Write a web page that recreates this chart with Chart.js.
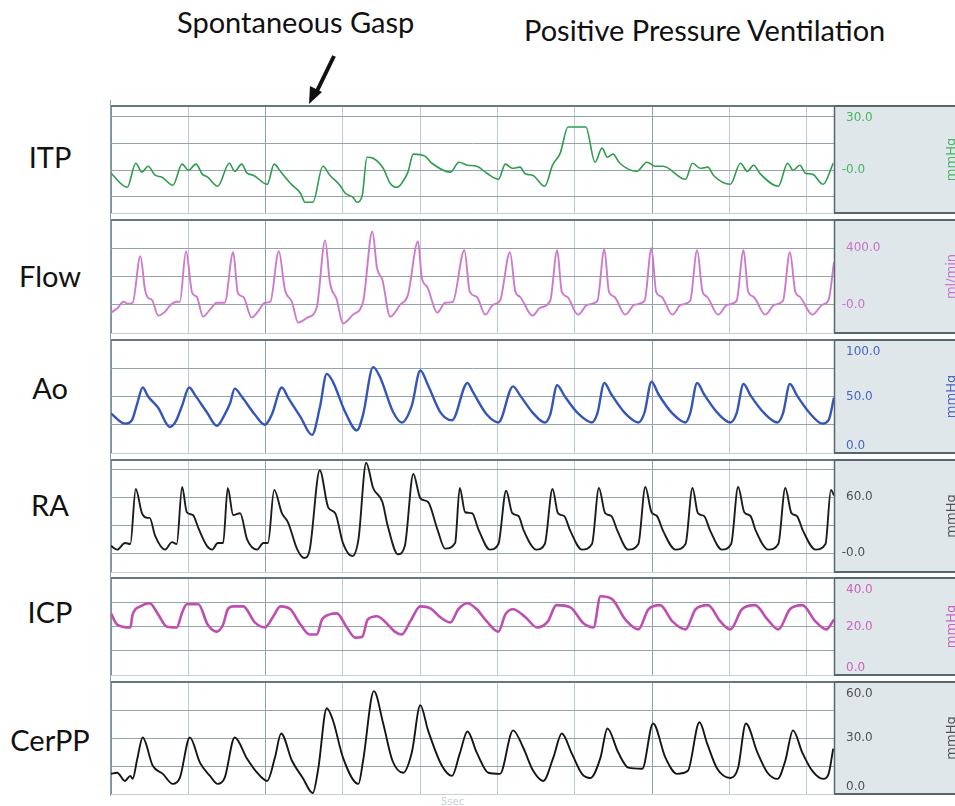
<!DOCTYPE html>
<html>
<head>
<meta charset="utf-8">
<script src="https://cdn.jsdelivr.net/npm/chart.js@4.4.1/dist/chart.umd.min.js"></script>
<style>
  body { margin: 0; background: #fff; width: 955px; height: 806px; overflow: hidden; position: relative; font-family: Lato, "Open Sans", sans-serif; }
  .name { position: absolute; width: 100px; left: 0; text-align: center; font-size: 29px; color: #111; line-height: 32px; }
  .note { position: absolute; font-size: 29px; color: #111; line-height: 32px; white-space: nowrap; }
  .panel { position: absolute; left: 108px; }
  #leftLine { position: absolute; left: 110px; top: 100px; width: 1px; height: 696px; background: #8c9ea6; }
  #secs { position: absolute; left: 441px; top: 796px; font: 10px "DejaVu Sans"; color: #c9d1d8; }
</style>
</head>
<body>
<div class="note" style="left:177px;top:6px">Spontaneous Gasp</div>
<div class="note" style="left:524px;top:14px">Positive Pressure Ventilation</div>
<svg width="955" height="110" style="position:absolute;left:0;top:0">
  <line x1="334" y1="56" x2="317" y2="91" stroke="#111" stroke-width="4"/>
  <polygon points="309,104 310,86 322,92" fill="#111"/>
</svg>
<div id="leftLine"></div>
<div id="secs">5sec</div>

<script>
// time axis (seconds), one grid line per second, darker every 5
const timeTicks = [0, 1, 2, 3, 4, 5, 6, 7, 8, 9];
const majorTicks = [2, 7];
const timeMax = 9.35;

// [time s, value]
const itpTrace = [[0.00,-1.7],[0.21,-9.6],[0.32,3.9],[0.40,-1.1],[0.48,2.2],[0.57,-2.8],[0.66,-3.9],[0.80,-8.4],[0.92,3.4],[1.00,0.0],[1.10,3.4],[1.18,-2.2],[1.25,-3.9],[1.38,-9.0],[1.53,3.9],[1.60,-0.6],[1.69,3.4],[1.76,-1.7],[1.84,-2.8],[2.02,-7.9],[2.11,3.4],[2.19,-0.6],[2.32,-7.3],[2.45,-12.9],[2.51,-18.0],[2.61,-18.0],[2.74,2.2],[2.83,-2.8],[2.96,-8.4],[3.03,-12.9],[3.13,-15.2],[3.18,-18.0],[3.25,-14.0],[3.31,7.3],[3.39,6.7],[3.52,1.1],[3.61,-7.3],[3.70,-9.6],[3.76,-7.3],[3.84,-1.1],[3.91,9.0],[4.06,7.9],[4.15,3.9],[4.39,-1.1],[4.50,4.5],[4.61,2.8],[4.73,2.2],[4.86,-1.7],[5.01,-5.1],[5.10,3.4],[5.19,1.1],[5.29,1.7],[5.36,-2.2],[5.45,-2.8],[5.61,-9.0],[5.71,2.8],[5.81,9.6],[5.91,24.2],[5.98,24.2],[6.14,24.2],[6.26,4.5],[6.35,12.4],[6.42,7.3],[6.49,9.0],[6.58,3.9],[6.80,-0.6],[6.93,4.5],[7.04,2.2],[7.14,2.2],[7.43,-5.1],[7.52,3.9],[7.62,1.1],[7.72,1.7],[7.79,-2.8],[8.01,-7.9],[8.14,3.9],[8.23,-0.6],[8.31,2.8],[8.40,-2.2],[8.63,-9.0],[8.75,3.9],[8.82,0.0],[8.91,2.8],[8.98,-1.7],[9.07,-2.2],[9.21,-7.9],[9.34,3.9]];

const flowTrace = [[0.00,-56],[0.09,-21],[0.16,21],[0.22,7],[0.28,14],[0.38,344],[0.44,105],[0.48,49],[0.53,35],[0.61,-77],[0.70,-49],[0.76,-7],[0.85,21],[0.89,21],[0.97,379],[1.05,84],[1.11,56],[1.19,-84],[1.28,-35],[1.37,14],[1.47,14],[1.58,372],[1.64,84],[1.71,56],[1.82,-91],[1.90,-49],[1.99,14],[2.06,21],[2.17,379],[2.25,105],[2.34,21],[2.42,-126],[2.54,-91],[2.66,-21],[2.77,456],[2.83,161],[2.92,35],[3.00,-133],[3.13,-70],[3.26,21],[3.38,519],[3.44,260],[3.51,176],[3.61,-84],[3.74,0],[3.84,70],[3.97,449],[4.02,190],[4.09,126],[4.22,-56],[4.32,14],[4.42,21],[4.57,386],[4.64,91],[4.73,56],[4.84,-70],[4.94,0],[5.03,28],[5.16,372],[5.23,91],[5.29,56],[5.45,-77],[5.55,-21],[5.68,28],[5.77,386],[5.83,91],[5.90,56],[6.04,-70],[6.16,0],[6.29,28],[6.38,393],[6.44,91],[6.51,56],[6.65,-70],[6.77,0],[6.90,28],[6.99,400],[7.05,91],[7.12,56],[7.26,-70],[7.37,0],[7.49,28],[7.58,386],[7.65,91],[7.71,56],[7.85,-70],[7.97,0],[8.09,28],[8.18,386],[8.24,91],[8.31,56],[8.46,-70],[8.58,0],[8.69,28],[8.78,372],[8.85,91],[8.91,56],[9.07,-70],[9.20,0],[9.28,35],[9.35,302]];

const aoTrace = [[0.00,35],[0.18,26],[0.27,29],[0.34,44],[0.41,58],[0.48,50],[0.61,40],[0.76,23],[0.83,27],[0.92,42],[1.01,58],[1.09,51],[1.24,36],[1.37,24],[1.47,34],[1.54,44],[1.60,57],[1.69,50],[1.86,34],[1.99,25],[2.08,34],[2.21,58],[2.29,49],[2.45,32],[2.60,16],[2.70,40],[2.79,70],[2.87,63],[3.03,36],[3.18,20],[3.26,34],[3.39,76],[3.48,67],[3.65,36],[3.76,27],[3.89,42],[4.00,73],[4.10,60],[4.26,36],[4.41,29],[4.61,62],[4.68,54],[4.86,34],[5.01,27],[5.20,59],[5.29,51],[5.45,36],[5.61,27],[5.68,34],[5.77,60],[5.86,51],[6.04,35],[6.22,27],[6.29,35],[6.38,62],[6.47,52],[6.65,35],[6.82,27],[6.90,36],[6.99,63],[7.08,52],[7.26,35],[7.43,27],[7.49,35],[7.58,62],[7.67,52],[7.85,35],[8.01,27],[8.09,35],[8.18,61],[8.27,51],[8.45,35],[8.62,27],[8.69,35],[8.78,61],[8.87,51],[9.04,35],[9.20,26],[9.28,29],[9.35,49]];

const raTrace = [[0.00,8],[0.08,4],[0.18,11],[0.25,10],[0.32,69],[0.40,43],[0.47,38],[0.50,38],[0.57,19],[0.70,4],[0.79,12],[0.85,10],[0.92,71],[0.98,44],[1.06,41],[1.13,27],[1.24,8],[1.31,4],[1.38,11],[1.45,11],[1.51,70],[1.58,41],[1.67,43],[1.76,15],[1.89,4],[1.97,11],[2.03,11],[2.11,68],[2.21,43],[2.29,33],[2.41,4],[2.50,-5],[2.57,4],[2.70,89],[2.81,49],[2.90,43],[3.00,11],[3.12,-3],[3.20,15],[3.30,97],[3.39,70],[3.51,55],[3.58,29],[3.71,-1],[3.80,8],[3.91,85],[4.00,59],[4.10,55],[4.22,26],[4.32,5],[4.45,11],[4.51,70],[4.58,44],[4.67,43],[4.75,26],[4.90,4],[5.01,10],[5.11,67],[5.19,43],[5.27,40],[5.34,24],[5.50,4],[5.61,10],[5.71,69],[5.78,43],[5.86,40],[5.94,24],[6.09,4],[6.22,10],[6.31,70],[6.39,43],[6.47,40],[6.55,24],[6.69,4],[6.82,10],[6.91,71],[6.99,44],[7.06,40],[7.14,24],[7.30,4],[7.43,10],[7.52,70],[7.59,43],[7.67,40],[7.75,24],[7.90,4],[8.02,10],[8.11,71],[8.19,44],[8.27,40],[8.34,24],[8.50,4],[8.63,10],[8.72,70],[8.80,43],[8.87,40],[8.95,24],[9.11,4],[9.24,10],[9.31,68],[9.35,62]];

const icpTrace = [[0.00,25.4],[0.08,20.8],[0.25,19.6],[0.28,25.0],[0.38,28.3],[0.50,29.6],[0.61,25.0],[0.72,20.0],[0.85,19.6],[0.92,25.8],[0.98,29.2],[1.13,29.2],[1.25,20.8],[1.37,17.9],[1.45,20.8],[1.51,27.1],[1.58,28.3],[1.71,28.3],[1.86,21.7],[1.99,19.6],[2.10,24.2],[2.19,28.3],[2.32,27.1],[2.45,20.8],[2.57,16.7],[2.66,16.7],[2.73,22.9],[2.83,25.0],[2.92,25.4],[3.05,19.6],[3.16,15.4],[3.25,15.8],[3.32,22.9],[3.44,24.2],[3.54,22.1],[3.67,17.9],[3.76,16.7],[3.87,22.1],[4.00,28.3],[4.13,27.5],[4.26,23.8],[4.39,21.7],[4.49,27.1],[4.61,29.6],[4.73,27.1],[4.86,22.1],[5.01,17.9],[5.10,25.0],[5.20,27.1],[5.36,23.8],[5.51,19.6],[5.65,22.1],[5.76,28.8],[5.94,27.9],[6.11,21.3],[6.24,19.6],[6.33,32.5],[6.48,31.3],[6.65,22.9],[6.82,18.8],[6.95,27.1],[7.10,28.8],[7.26,22.1],[7.43,18.8],[7.56,27.1],[7.72,28.8],[7.88,22.1],[8.01,18.8],[8.16,27.1],[8.33,28.8],[8.49,22.9],[8.63,18.8],[8.78,27.1],[8.94,28.8],[9.11,22.1],[9.25,18.8],[9.35,22.9]];

const cerppTrace = [[0.00,10.8],[0.08,11.4],[0.18,7.0],[0.25,9.7],[0.28,8.1],[0.34,18.9],[0.41,30.3],[0.54,15.1],[0.67,10.8],[0.80,5.4],[0.89,8.6],[1.02,30.3],[1.15,16.8],[1.28,9.7],[1.38,5.4],[1.47,8.6],[1.60,30.3],[1.76,18.9],[1.89,11.4],[2.02,7.0],[2.12,19.5],[2.20,32.4],[2.34,17.8],[2.48,8.6],[2.61,0.5],[2.68,13.5],[2.79,45.9],[2.87,39.5],[3.00,19.5],[3.20,5.4],[3.26,17.8],[3.40,55.1],[3.52,37.8],[3.64,17.8],[3.78,11.4],[3.89,22.2],[4.00,47.6],[4.10,34.1],[4.28,15.1],[4.41,9.7],[4.51,21.6],[4.61,33.5],[4.73,22.2],[4.88,11.4],[5.03,10.8],[5.20,34.1],[5.33,24.9],[5.46,12.4],[5.59,7.0],[5.72,19.5],[5.83,32.4],[5.96,21.6],[6.09,10.8],[6.20,8.6],[6.33,19.5],[6.42,35.1],[6.56,22.2],[6.69,14.1],[6.87,13.5],[7.01,37.8],[7.17,19.5],[7.32,10.8],[7.46,12.4],[7.61,38.4],[7.71,27.0],[7.84,13.5],[8.01,8.6],[8.11,14.1],[8.21,37.8],[8.36,22.2],[8.49,11.4],[8.62,8.1],[8.72,17.8],[8.82,34.1],[8.94,22.2],[9.07,12.4],[9.21,8.1],[9.28,10.8],[9.34,24.3]];

// right-hand scale labels
const itpTickValues = [30, 0],   itpTickLabels = ['30.0', '-0.0'];
const flowTickValues = [400, 0], flowTickLabels = ['400.0', '-0.0'];
const aoTickValues = [100, 50, 0], aoTickLabels = ['100.0', '50.0', '0.0'];
const raTickValues = [60, 0],    raTickLabels = ['60.0', '-0.0'];
const icpTickValues = [40, 20, 0], icpTickLabels = ['40.0', '20.0', '0.0'];
const cerppTickValues = [60, 30, 0], cerppTickLabels = ['60.0', '30.0', '0.0'];

const panels = [
  { name: 'ITP',   top: 106, height: 107, min: -24,  max: 36,  grid: [-24, -15, 0, 15, 30, 36], trace: itpTrace,   color: '#2e9c4c', width: 1.6, labelColor: '#46b463', tv: itpTickValues,   tl: itpTickLabels,   unit: 'mmHg',   nameY: 141 },
  { name: 'Flow',  top: 220, height: 113, min: -200, max: 600, grid: [-200, 0, 200, 400, 600],  trace: flowTrace,  color: '#cc7acc', width: 1.9, labelColor: '#c772c7', tv: flowTickValues,  tl: flowTickLabels,  unit: 'ml/min', nameY: 260 },
  { name: 'Ao',    top: 340, height: 113, min: 0,    max: 100, grid: [0, 25, 50, 75, 100],      trace: aoTrace,    color: '#3556b6', width: 2.4, labelColor: '#4764c6', tv: aoTickValues,    tl: aoTickLabels,    unit: 'mmHg',   nameY: 372 },
  { name: 'RA',    top: 460, height: 112, min: -20,  max: 100, grid: [-20, 0, 30, 60, 90, 100], trace: raTrace,    color: '#1c1c1c', width: 1.9, labelColor: '#505050', tv: raTickValues,    tl: raTickLabels,    unit: 'mmHg',   nameY: 489 },
  { name: 'ICP',   top: 578, height: 97,  min: 0,    max: 40,  grid: [0, 10, 20, 30, 40],       trace: icpTrace,   color: '#bf4eb2', width: 2.6, labelColor: '#cc62bd', tv: icpTickValues,   tl: icpTickLabels,   unit: 'mmHg',   nameY: 596 },
  { name: 'CerPP', top: 682, height: 112, min: 0,    max: 60,  grid: [0, 15, 30, 45, 60],       trace: cerppTrace, color: '#151515', width: 1.9, labelColor: '#505050', tv: cerppTickValues, tl: cerppTickLabels, unit: 'mmHg',   nameY: 724 }
];

const sidePanel = {
  id: 'sidePanel',
  afterDraw(chart, args, opts) {
    const p = opts.panel;
    const { ctx, chartArea: a } = chart;
    const y = chart.scales.y;
    ctx.save();
    ctx.fillStyle = '#dfe7ea';
    ctx.fillRect(a.right, a.top, chart.width - a.right, a.bottom - a.top);
    ctx.strokeStyle = '#56676e';
    ctx.lineWidth = 2;
    ctx.beginPath();
    ctx.moveTo(a.right, a.top); ctx.lineTo(chart.width, a.top);
    ctx.moveTo(a.right, a.bottom); ctx.lineTo(chart.width, a.bottom);
    ctx.stroke();
    ctx.lineWidth = 1.5;
    ctx.beginPath();
    ctx.moveTo(a.right + 0.5, a.top); ctx.lineTo(a.right + 0.5, a.bottom);
    ctx.stroke();

    ctx.font = '12px "DejaVu Sans"';
    ctx.fillStyle = p.labelColor;
    ctx.textBaseline = 'middle';
    ctx.textAlign = 'left';
    p.tv.forEach((v, i) => {
      let yy = y.getPixelForValue(v);
      yy = Math.min(Math.max(yy, a.top + 12), a.bottom - 7);
      const s = p.tl[i];
      let x0 = a.right + 12;
      if (s[0] === '-') x0 -= ctx.measureText('-').width;
      ctx.fillText(s, x0, yy);
    });

    // unit, partly cut off by the right edge
    ctx.font = '13px "DejaVu Sans"';
    ctx.translate(chart.width - 3, (a.top + a.bottom) / 2);
    ctx.rotate(-Math.PI / 2);
    ctx.textAlign = 'center';
    ctx.fillText(p.unit, 0, 0);
    ctx.restore();
  }
};

panels.forEach(p => {
  const lbl = document.createElement('div');
  lbl.className = 'name';
  lbl.style.top = p.nameY + 'px';
  lbl.textContent = p.name;
  document.body.appendChild(lbl);

  const box = document.createElement('div');
  box.className = 'panel';
  box.style.top = (p.top - 3) + 'px';
  const cv = document.createElement('canvas');
  cv.width = 847;
  cv.height = p.height + 6;
  box.appendChild(cv);
  document.body.appendChild(box);

  new Chart(cv, {
    type: 'line',
    data: {
      datasets: [{
        data: p.trace.map(d => ({ x: d[0], y: d[1] })),
        borderColor: p.color,
        borderWidth: p.width,
        pointRadius: 0,
        cubicInterpolationMode: 'monotone',
        borderJoinStyle: 'round'
      }]
    },
    options: {
      animation: false,
      responsive: false,
      devicePixelRatio: 1,
      layout: { padding: { left: 3, right: 121, top: 3, bottom: 3 } },
      plugins: { legend: { display: false }, tooltip: { enabled: false }, sidePanel: { panel: p } },
      scales: {
        x: {
          type: 'linear', min: 0, max: timeMax,
          afterBuildTicks: s => { s.ticks = timeTicks.map(v => ({ value: v })); },
          ticks: { display: false },
          border: { display: false },
          grid: {
            drawTicks: false, tickLength: 0, lineWidth: 1,
            color: c => c.tick.value === 0 ? '#7f929a' : (majorTicks.includes(c.tick.value) ? '#8ea0a8' : '#bccbd1')
          }
        },
        y: {
          type: 'linear', min: p.min, max: p.max,
          afterBuildTicks: s => { s.ticks = p.grid.map(v => ({ value: v })); },
          ticks: { display: false },
          border: { display: false },
          grid: {
            drawTicks: false, tickLength: 0,
            lineWidth: c => c.tick.value === p.max ? 2 : 1,
            color: c => c.tick.value === p.max ? '#66777e' : (c.tick.value === p.min ? '#c5d1d6' : '#93a4ab')
          }
        }
      }
    },
    plugins: [sidePanel]
  });
});
</script>
</body>
</html>
